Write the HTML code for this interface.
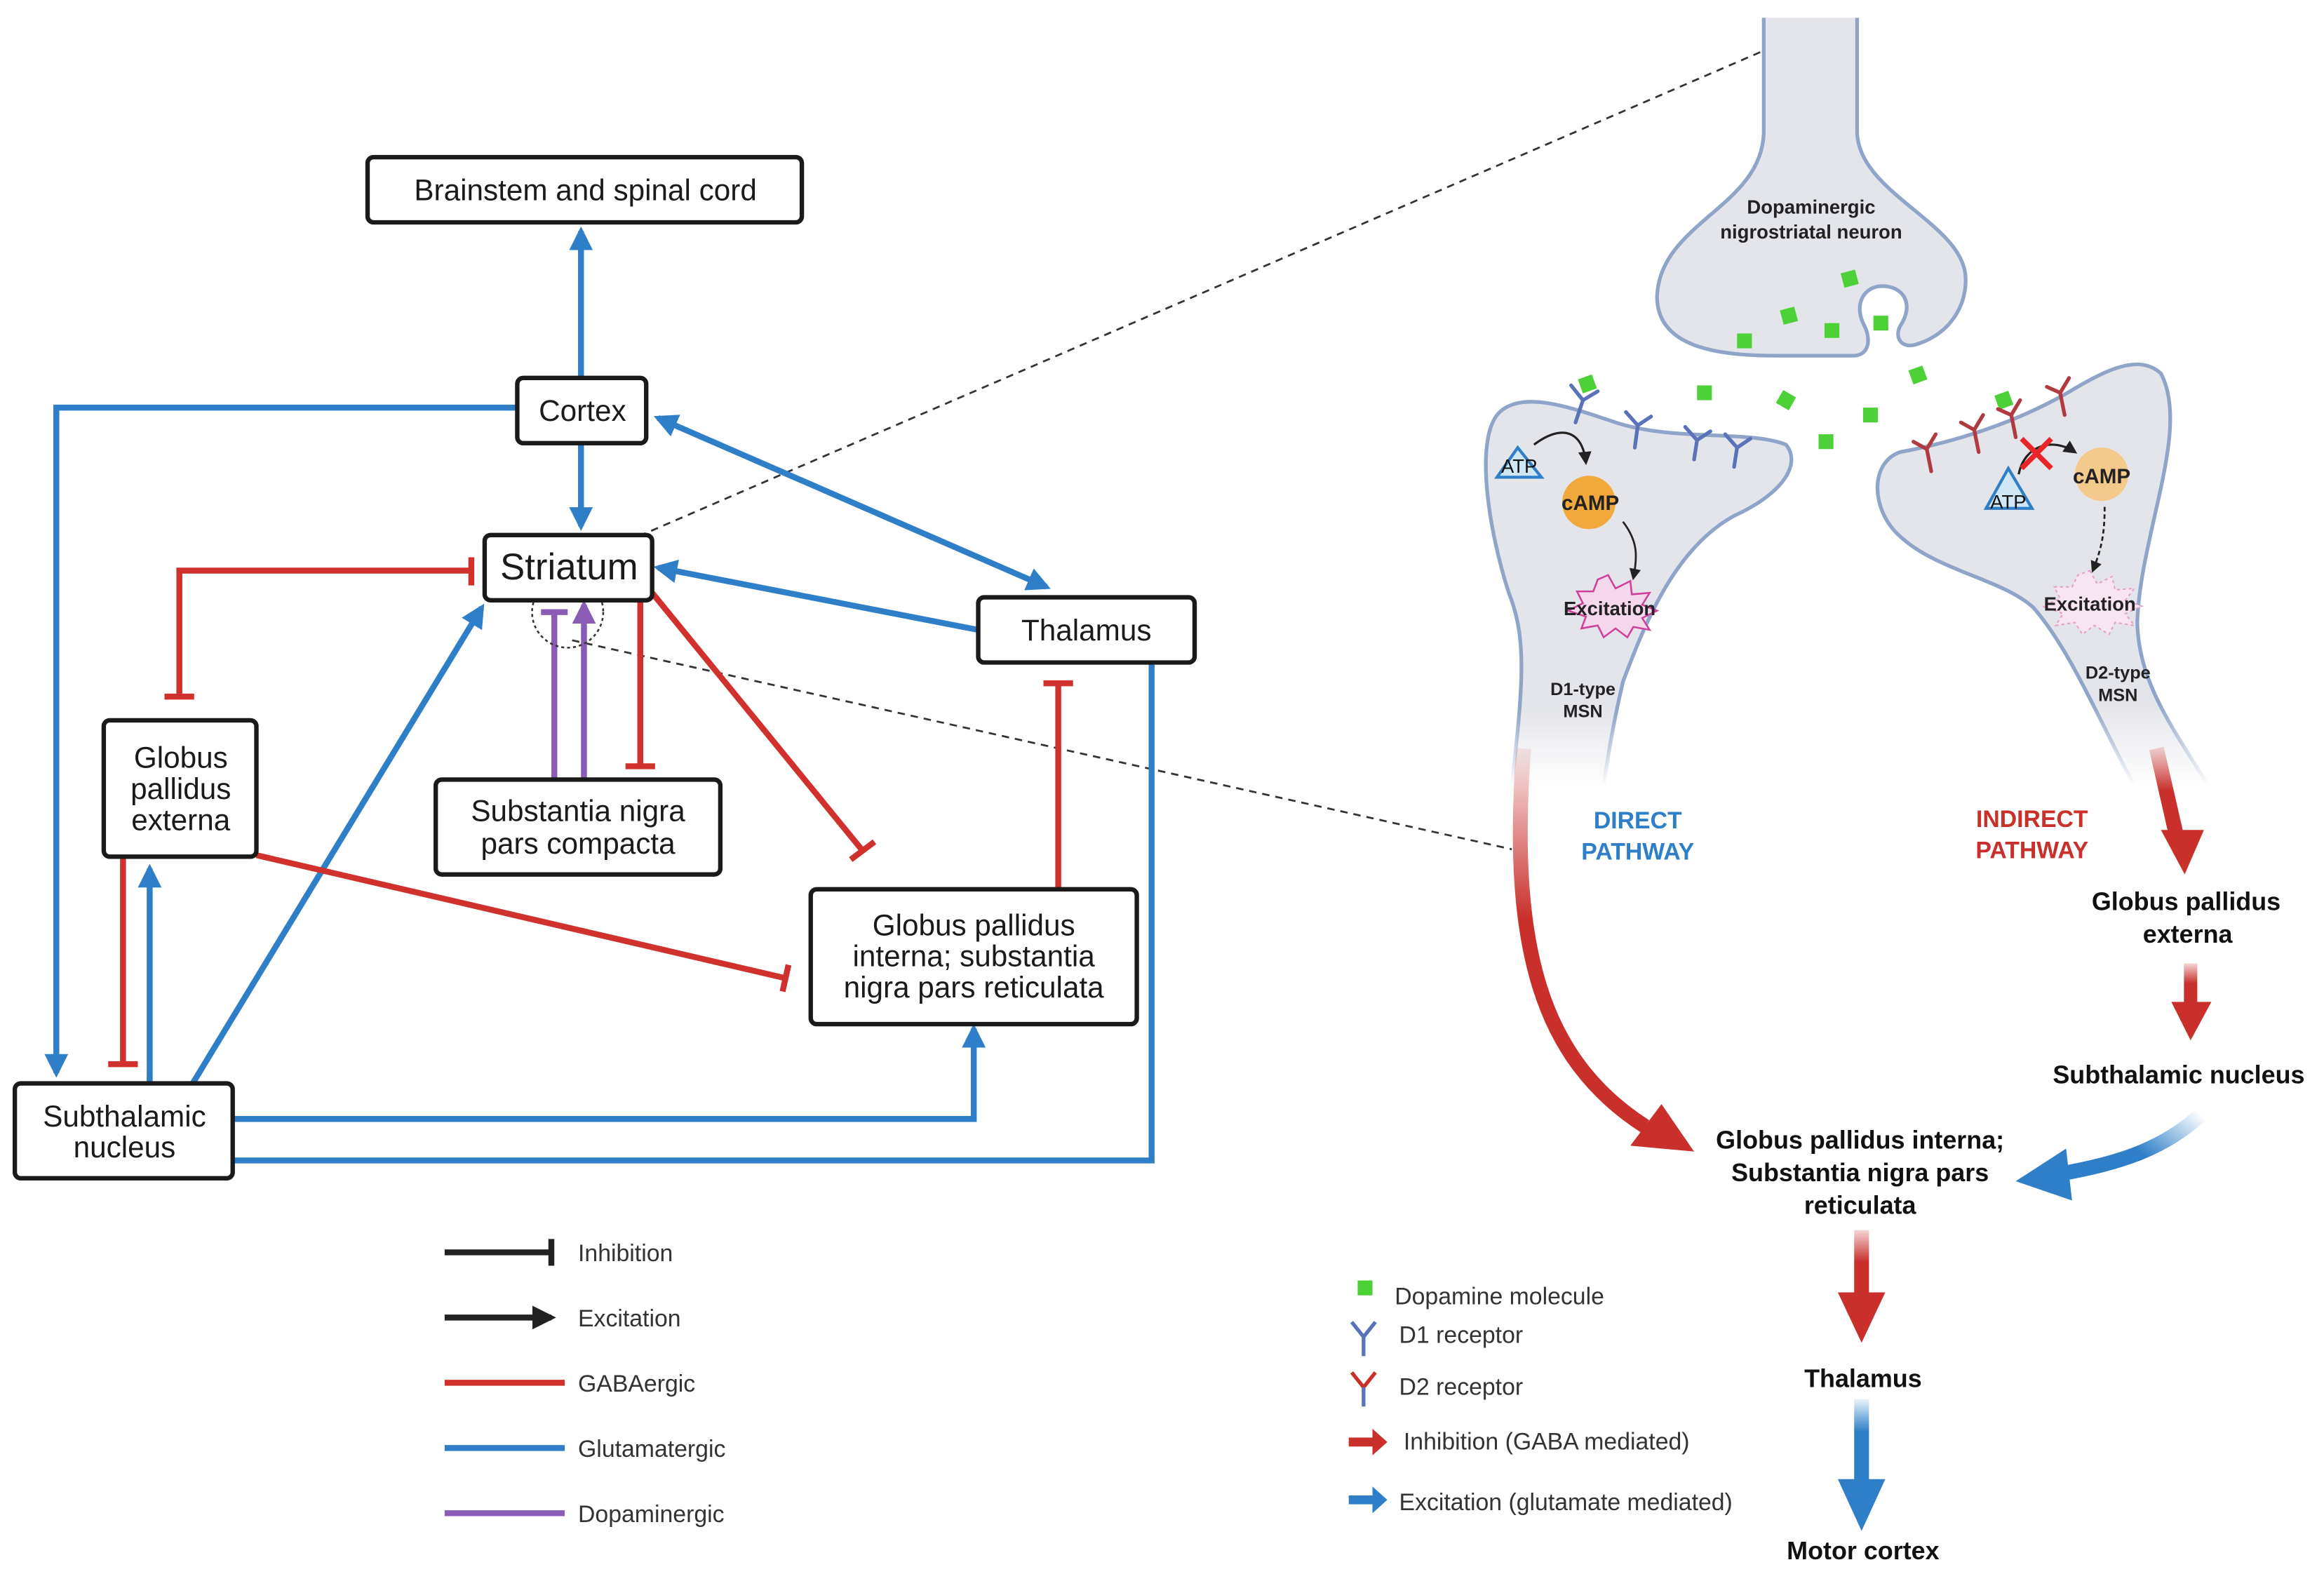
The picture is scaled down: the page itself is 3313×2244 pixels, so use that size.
<!DOCTYPE html>
<html><head><meta charset="utf-8"><style>
html,body{margin:0;padding:0;background:#fff;}
svg{display:block;}
text{font-family:"Liberation Sans",sans-serif;}
</style></head><body>
<svg width="3313" height="2244" viewBox="0 0 1568 1062" xmlns="http://www.w3.org/2000/svg">
<defs>
<marker id="ab" viewBox="0 0 10 10" refX="8" refY="5" markerWidth="4" markerHeight="4" orient="auto-start-reverse" markerUnits="strokeWidth"><path d="M0,0 L10,5 L0,10 Z" fill="#2f7fc8"/></marker>
<marker id="ap" viewBox="0 0 10 10" refX="8" refY="5" markerWidth="4" markerHeight="4" orient="auto" markerUnits="strokeWidth"><path d="M0,0 L10,5 L0,10 Z" fill="#8a5cb5"/></marker>
<marker id="ak" viewBox="0 0 10 10" refX="8" refY="5" markerWidth="4" markerHeight="4" orient="auto" markerUnits="strokeWidth"><path d="M0,0 L10,5 L0,10 Z" fill="#222"/></marker>
<marker id="as" viewBox="0 0 10 10" refX="8" refY="5" markerWidth="6" markerHeight="6" orient="auto"><path d="M0,0 L10,5 L0,10 Z" fill="#222"/></marker>
<linearGradient id="nf" x1="0" y1="0" x2="0" y2="1"><stop offset="0.8" stop-color="#e4e5ea"/><stop offset="1" stop-color="#e4e5ea" stop-opacity="0"/></linearGradient>
<linearGradient id="ns" x1="0" y1="0" x2="0" y2="1"><stop offset="0.8" stop-color="#8fa4c8"/><stop offset="1" stop-color="#8fa4c8" stop-opacity="0"/></linearGradient>
<linearGradient id="dr" x1="0" y1="0" x2="0" y2="1"><stop offset="0" stop-color="#c9302c" stop-opacity="0.1"/><stop offset="0.45" stop-color="#c9302c"/></linearGradient>
<linearGradient id="ir" x1="0" y1="0" x2="0" y2="1"><stop offset="0" stop-color="#c9302c" stop-opacity="0.2"/><stop offset="0.5" stop-color="#c9302c"/></linearGradient>
<linearGradient id="bl" x1="1" y1="0" x2="0" y2="0.5"><stop offset="0" stop-color="#2f7fc8" stop-opacity="0"/><stop offset="0.6" stop-color="#2f7fc8"/></linearGradient>
<linearGradient id="bv" x1="0" y1="0" x2="0" y2="1"><stop offset="0" stop-color="#2f7fc8" stop-opacity="0.1"/><stop offset="0.4" stop-color="#2f7fc8"/></linearGradient>
</defs>

<line x1="398" y1="376" x2="1188" y2="35" stroke="#333" stroke-width="1.3" stroke-dasharray="5,4"/>
<line x1="386" y1="432" x2="1020" y2="573" stroke="#333" stroke-width="1.3" stroke-dasharray="5,4"/>

<g fill="none" stroke="#2f7fc8" stroke-width="4">
<line x1="392" y1="255" x2="392" y2="156" marker-end="url(#ab)"/>
<line x1="392" y1="299" x2="392" y2="355" marker-end="url(#ab)"/>
<polyline points="349,275 38,275 38,724" marker-end="url(#ab)"/>
<line x1="444" y1="282" x2="706" y2="396" marker-start="url(#ab)" marker-end="url(#ab)"/>
<line x1="660" y1="425" x2="444" y2="383" marker-end="url(#ab)"/>
<polyline points="777,447 777,783 157,783"/>
<polyline points="157,755 657,755 657,694" marker-end="url(#ab)"/>
<line x1="130" y1="731" x2="325" y2="410" marker-end="url(#ab)"/>
<line x1="101" y1="731" x2="101" y2="586" marker-end="url(#ab)"/>
</g>
<g fill="none" stroke="#d0312d" stroke-width="4">
<polyline points="318,385 121,385 121,470"/>
<line x1="318" y1="376" x2="318" y2="395"/>
<line x1="111" y1="470" x2="131" y2="470"/>
<line x1="83" y1="578" x2="83" y2="718"/><line x1="73" y1="718" x2="93" y2="718"/>
<line x1="432" y1="405" x2="432" y2="517"/><line x1="422" y1="517" x2="442" y2="517"/>
<line x1="440" y1="400" x2="582" y2="574"/><line x1="574" y1="580" x2="590" y2="568"/>
<line x1="173" y1="577" x2="530" y2="660"/><line x1="532" y1="651" x2="528" y2="669"/>
<line x1="714" y1="600" x2="714" y2="461"/><line x1="704" y1="461" x2="724" y2="461"/>
</g>
<g fill="none" stroke="#8a5cb5" stroke-width="4">
<line x1="374" y1="526" x2="374" y2="413"/><line x1="365" y1="413" x2="383" y2="413"/>
<line x1="394" y1="526" x2="394" y2="408" marker-end="url(#ap)"/>
</g>
<circle cx="383" cy="413" r="24" fill="none" stroke="#333" stroke-width="1.2" stroke-dasharray="2,2"/>

<g fill="#fff" stroke="#1a1a1a" stroke-width="3">
<rect x="248" y="106" width="293" height="44" rx="4"/>
<rect x="349" y="255" width="87" height="44" rx="4"/>
<rect x="327" y="361" width="113" height="44" rx="4"/>
<rect x="660" y="403" width="146" height="44" rx="4"/>
<rect x="70" y="486" width="103" height="92" rx="4"/>
<rect x="294" y="526" width="192" height="64" rx="4"/>
<rect x="547" y="600" width="220" height="91" rx="4"/>
<rect x="10" y="731" width="147" height="64" rx="4"/>
</g>
<g font-size="20" fill="#1a1a1a" text-anchor="middle">
<text x="395" y="135">Brainstem and spinal cord</text>
<text x="393" y="284">Cortex</text>
<text x="384" y="391" font-size="25">Striatum</text>
<text x="733" y="432">Thalamus</text>
<text x="122" y="518">Globus</text><text x="122" y="539">pallidus</text><text x="122" y="560">externa</text>
<text x="390" y="554">Substantia nigra</text><text x="390" y="576">pars compacta</text>
<text x="657" y="631">Globus pallidus</text><text x="657" y="652">interna; substantia</text><text x="657" y="673">nigra pars reticulata</text>
<text x="84" y="760">Subthalamic</text><text x="84" y="781">nucleus</text>
</g>

<g stroke-width="4" fill="none">
<line x1="300" y1="845" x2="372" y2="845" stroke="#222"/><line x1="372" y1="836" x2="372" y2="854" stroke="#222"/>
<line x1="300" y1="889" x2="372" y2="889" stroke="#222" marker-end="url(#ak)"/>
<line x1="300" y1="933" x2="381" y2="933" stroke="#d0312d"/>
<line x1="300" y1="977" x2="381" y2="977" stroke="#2f7fc8"/>
<line x1="300" y1="1021" x2="381" y2="1021" stroke="#8a5cb5"/>
</g>
<g font-size="16" fill="#333">
<text x="390" y="851">Inhibition</text><text x="390" y="895">Excitation</text>
<text x="390" y="939">GABAergic</text><text x="390" y="983">Glutamatergic</text><text x="390" y="1027">Dopaminergic</text>
</g>

<path d="M1190,12 L1190,90 C1188,140 1120,150 1118,200 C1118,235 1160,240 1200,240 L1250,240 C1262,240 1262,228 1258,220 C1250,205 1258,193 1270,193 C1284,193 1292,205 1282,220 C1278,228 1283,236 1294,232 C1316,225 1328,205 1326,185 C1322,150 1255,130 1253,90 L1253,12" fill="#e4e5ea" stroke="#8fa4c8" stroke-width="2.5"/>
<path d="M1020,530 C1028,460 1030,430 1018,400 C1005,360 995,300 1010,280 C1025,262 1060,275 1090,285 C1130,298 1180,290 1205,300 C1215,312 1205,332 1170,348 C1130,370 1110,420 1095,460 C1088,490 1085,510 1082,530" fill="url(#nf)" stroke="url(#ns)" stroke-width="2.5"/>
<path d="M1490,530 C1465,490 1443,460 1442,420 C1444,360 1478,290 1458,252 C1443,238 1420,250 1395,265 C1360,285 1320,298 1282,305 C1262,312 1262,342 1280,360 C1305,385 1350,390 1372,410 C1398,440 1418,490 1440,530" fill="url(#nf)" stroke="url(#ns)" stroke-width="2.5"/>
<text x="1222" y="144" font-size="13" font-weight="bold" text-anchor="middle" fill="#222">Dopaminergic</text>
<text x="1222" y="161" font-size="13" font-weight="bold" text-anchor="middle" fill="#222">nigrostriatal neuron</text>

<g fill="#4cd137">
<rect x="1243" y="183" width="10" height="10" transform="rotate(-15 1248 188)"/>
<rect x="1202" y="208" width="10" height="10" transform="rotate(-15 1207 213)"/>
<rect x="1231" y="218" width="10" height="10"/>
<rect x="1264" y="213" width="10" height="10"/>
<rect x="1172" y="225" width="10" height="10"/>
<rect x="1066" y="254" width="10" height="10" transform="rotate(-20 1071 259)"/>
<rect x="1145" y="260" width="10" height="10"/>
<rect x="1200" y="265" width="10" height="10" transform="rotate(30 1205 270)"/>
<rect x="1227" y="293" width="10" height="10"/>
<rect x="1257" y="275" width="10" height="10"/>
<rect x="1289" y="248" width="10" height="10" transform="rotate(-20 1294 253)"/>
<rect x="1347" y="265" width="10" height="10" transform="rotate(-20 1352 270)"/>
</g>
<g fill="none" stroke-width="2.5" stroke-linecap="round">
<g stroke="#5a72b8">
<path d="M1063,285 L1068,270 L1060,260 M1068,270 L1078,264"/>
<path d="M1103,302 L1105,287 L1097,278 M1105,287 L1114,281"/>
<path d="M1143,310 L1145,297 L1137,288 M1145,297 L1154,291"/>
<path d="M1170,315 L1172,302 L1164,293 M1172,302 L1181,296"/>
</g>
<g stroke="#b03a40">
<path d="M1303,318 L1300,303 L1291,298 M1300,303 L1306,293"/>
<path d="M1335,305 L1332,290 L1323,285 M1332,290 L1338,280"/>
<path d="M1360,295 L1357,280 L1348,276 M1357,280 L1363,270"/>
<path d="M1393,280 L1390,265 L1381,261 M1390,265 L1396,255"/>
</g>
</g>
<path d="M1024,302 L1010,322 L1040,322 Z" fill="#cfe6f5" stroke="#2f7fc8" stroke-width="2"/>
<text x="1025" y="319" font-size="13" fill="#111" text-anchor="middle">ATP</text>
<path d="M1035,300 C1055,285 1068,292 1070,312" fill="none" stroke="#222" stroke-width="1.5" marker-end="url(#as)"/>
<circle cx="1072" cy="339" r="18" fill="#f0a93a"/>
<text x="1073" y="344" font-size="14" font-weight="bold" fill="#222" text-anchor="middle">cAMP</text>
<path d="M1095,352 C1105,365 1105,375 1102,390" fill="none" stroke="#222" stroke-width="1.3" marker-end="url(#as)"/>
<path d="M1085,388 L1090,397 L1100,392 L1101,401 L1113,400 L1108,408 L1118,412 L1108,417 L1113,425 L1102,423 L1098,430 L1090,424 L1082,430 L1078,422 L1067,424 L1070,416 L1058,412 L1068,407 L1064,399 L1075,399 L1078,391 Z" fill="#f5d8ec" stroke="#d0409a" stroke-width="1.2"/>
<text x="1086" y="415" font-size="13" font-weight="bold" fill="#222" text-anchor="middle">Excitation</text>
<text x="1068" y="469" font-size="12" font-weight="bold" fill="#222" text-anchor="middle">D1-type</text>
<text x="1068" y="484" font-size="12" font-weight="bold" fill="#222" text-anchor="middle">MSN</text>
<path d="M1355,316 L1340,343 L1371,343 Z" fill="#cfe6f5" stroke="#2f7fc8" stroke-width="2"/>
<text x="1355" y="343" font-size="13" fill="#111" text-anchor="middle">ATP</text>
<path d="M1362,320 C1366,300 1385,295 1400,305" fill="none" stroke="#222" stroke-width="1.5" marker-end="url(#as)"/>
<path d="M1364,296 L1384,316 M1384,296 L1364,316" stroke="#e8262a" stroke-width="3.5"/>
<circle cx="1418" cy="320" r="18" fill="#f3c98c"/>
<text x="1418" y="326" font-size="14" font-weight="bold" fill="#222" text-anchor="middle">cAMP</text>
<path d="M1420,342 C1420,360 1418,370 1412,385" fill="none" stroke="#222" stroke-width="1.3" stroke-dasharray="3,2" marker-end="url(#as)"/>
<path d="M1410,385 L1415,394 L1425,389 L1427,398 L1440,397 L1434,405 L1445,409 L1434,414 L1440,422 L1427,420 L1423,428 L1413,422 L1405,428 L1400,420 L1387,422 L1392,414 L1378,409 L1390,404 L1386,396 L1398,396 L1402,388 Z" fill="#f7e6f1" stroke="#e7a0cc" stroke-width="1" stroke-dasharray="2,2"/>
<text x="1410" y="412" font-size="13" font-weight="bold" fill="#222" text-anchor="middle">Excitation</text>
<text x="1429" y="458" font-size="12" font-weight="bold" fill="#222" text-anchor="middle">D2-type</text>
<text x="1429" y="473" font-size="12" font-weight="bold" fill="#222" text-anchor="middle">MSN</text>

<g font-size="16" font-weight="bold" text-anchor="middle">
<text x="1105" y="559" fill="#2f7fc8">DIRECT</text><text x="1105" y="580" fill="#2f7fc8">PATHWAY</text>
<text x="1371" y="558" fill="#c9302c">INDIRECT</text><text x="1371" y="579" fill="#c9302c">PATHWAY</text>
</g>
<path d="M1028,505 C1018,640 1040,715 1110,760" fill="none" stroke="url(#dr)" stroke-width="10"/>
<path d="M1100,773 L1143,777 L1121,745 Z" fill="#c9302c"/>
<path d="M1455,505 L1468,562" stroke="url(#ir)" stroke-width="10" fill="none"/>
<path d="M1458,560 L1487,560 L1474,590 Z" fill="#c9302c"/>
<rect x="1473.5" y="650" width="9" height="27" fill="url(#ir)"/>
<path d="M1465,676 L1492,676 L1478,702 Z" fill="#c9302c"/>
<path d="M1485,752 C1460,775 1430,785 1390,792" fill="none" stroke="url(#bl)" stroke-width="10"/>
<path d="M1394,775 L1360,797 L1398,810 Z" fill="#2f7fc8"/>
<rect x="1251" y="830" width="10" height="43" fill="url(#ir)"/>
<path d="M1240,872 L1272,872 L1256,906 Z" fill="#c9302c"/>
<rect x="1251" y="944" width="10" height="55" fill="url(#bv)"/>
<path d="M1240,998 L1272,998 L1256,1033 Z" fill="#2f7fc8"/>
<g font-size="17" font-weight="bold" fill="#111" text-anchor="middle">
<text x="1475" y="614">Globus pallidus</text><text x="1476" y="636">externa</text>
<text x="1470" y="731">Subthalamic nucleus</text>
<text x="1255" y="775">Globus pallidus interna;</text><text x="1255" y="797">Substantia nigra pars</text><text x="1255" y="819">reticulata</text>
<text x="1257" y="936">Thalamus</text>
<text x="1257" y="1052">Motor cortex</text>
</g>
<rect x="916" y="864" width="10" height="10" fill="#4cd137"/>
<g fill="none" stroke-width="2.5">
<path d="M912,892 L920,902 L928,892 M920,902 L920,915" stroke="#5a72b8"/>
<path d="M912,926 L920,936 L928,926" stroke="#c9302c"/><path d="M920,936 L920,949" stroke="#5a72b8"/>
</g>
<path d="M910,970 L926,970 L926,964 L936,973 L926,982 L926,976 L910,976 Z" fill="#c9302c"/>
<path d="M910,1009 L926,1009 L926,1003 L936,1012 L926,1021 L926,1015 L910,1015 Z" fill="#2f7fc8"/>
<g font-size="16" fill="#333">
<text x="941" y="880">Dopamine molecule</text>
<text x="944" y="906">D1 receptor</text>
<text x="944" y="941">D2 receptor</text>
<text x="947" y="978">Inhibition (GABA mediated)</text>
<text x="944" y="1019">Excitation (glutamate mediated)</text>
</g>
</svg>
</body></html>
